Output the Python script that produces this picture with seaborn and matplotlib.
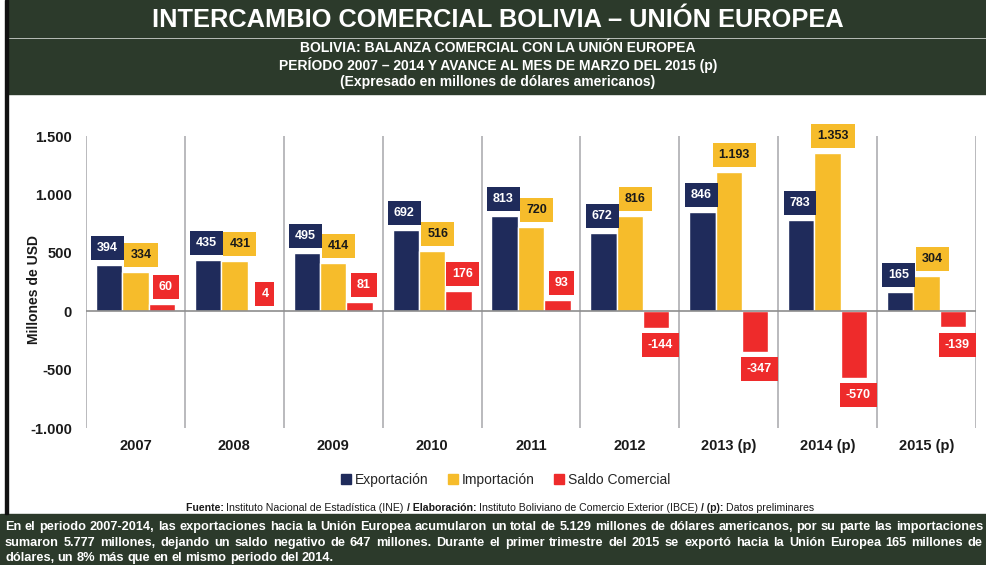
import matplotlib
matplotlib.use('Agg')
import matplotlib.pyplot as plt
import seaborn as sns
import pandas as pd
from matplotlib.patches import Rectangle

# --- DATA ---
years = ['2007', '2008', '2009', '2010', '2011', '2012', '2013 (p)', '2014 (p)', '2015 (p)']
exportacion = [394, 435, 495, 692, 813, 672, 846, 783, 165]
importacion = [334, 431, 414, 516, 720, 816, 1193, 1353, 304]
saldo = [60, 4, 81, 176, 93, -144, -347, -570, -139]
series = ['Exportación', 'Importación', 'Saldo Comercial']
colors = ['#1f2b5b', '#f6bc2b', '#ee2b2b']
label_colors = ['white', '#1a1a1a', 'white']
yticks = [-1000, -500, 0, 500, 1000, 1500]

df = pd.DataFrame({
    'Año': years * 3,
    'Serie': [series[0]] * 9 + [series[1]] * 9 + [series[2]] * 9,
    'Valor': exportacion + importacion + saldo,
})

GREEN = '#2c3a2b'

sns.set_theme(style='white')
plt.rcParams['font.family'] = ['Liberation Sans', 'DejaVu Sans']

fig = plt.figure(figsize=(9.86, 5.65), dpi=100)
W, H = 986, 565

def fx(px):
    return px / W

def fy(py):
    return 1 - py / H

# --- HEADER / FOOTER BANDS ---
fig.patches.append(Rectangle((fx(8), fy(37)), 1, 37 / H, transform=fig.transFigure, color=GREEN, zorder=0))
fig.patches.append(Rectangle((fx(8), fy(94)), 1, 55 / H, transform=fig.transFigure, color=GREEN, zorder=0))
fig.patches.append(Rectangle((0, 0), 1, 51 / H, transform=fig.transFigure, color=GREEN, zorder=0))
fig.patches.append(Rectangle((fx(5), fy(514)), 3 / W, 514 / H, transform=fig.transFigure, color='#111111', zorder=0))

fig.text(0.505, fy(20), 'INTERCAMBIO COMERCIAL BOLIVIA – UNIÓN EUROPEA', color='white',
         fontsize=18.3, fontweight='bold', ha='center', va='center')
fig.text(0.505, fy(48), 'BOLIVIA: BALANZA COMERCIAL CON LA UNIÓN EUROPEA', color='white',
         fontsize=10, fontweight='bold', ha='center', va='center')
fig.text(0.505, fy(65), 'PERÍODO 2007 – 2014 Y AVANCE AL MES DE MARZO DEL 2015 (p)', color='white',
         fontsize=10, fontweight='bold', ha='center', va='center')
fig.text(0.505, fy(82), '(Expresado en millones de dólares americanos)', color='white',
         fontsize=10, fontweight='bold', ha='center', va='center')

# --- CHART ---
ax = fig.add_axes([fx(86), fy(428), (976 - 86) / W, (428 - 136) / H])
ax.set_facecolor('none')
sns.barplot(data=df, x='Año', y='Valor', hue='Serie', palette=colors, saturation=1,
            width=0.8, ax=ax, legend=False, zorder=2)
ax.set_xlim(-0.5, len(years) - 0.5)
ax.set_ylim(-1000, 1500)
ax.set_yticks(yticks)
ax.set_yticklabels([f'{v:,.0f}'.replace(',', '.') for v in yticks])
for s in ax.spines.values():
    s.set_visible(False)
for i in range(len(years) + 1):
    ax.axvline(i - 0.5, color='#b4b4b8', lw=1.3, zorder=1)
ax.axhline(0, color='#8e8e8e', lw=1.2, zorder=3)
ax.tick_params(axis='both', length=0, labelsize=10.5, colors='#1a1a1a')
ax.tick_params(axis='y', pad=10)
ax.tick_params(axis='x', pad=8)
for t in ax.get_xticklabels() + ax.get_yticklabels():
    t.set_fontweight('bold')
ax.set_xlabel('')
ax.set_ylabel('Millones de USD', fontsize=10, fontweight='bold', color='#1a1a1a')
ax.yaxis.set_label_coords((41 - 86) / 890, (428 - 290) / 292)

# value boxes: export on top of import, small horizontal nudges like the original
x_nudge = [-1, 4, 3]
z_order = [7, 6, 5]
for cont, col, tcol, dx, zo in zip(ax.containers, colors, label_colors, x_nudge, z_order):
    for bar in cont:
        v = bar.get_height()
        x = bar.get_x() + bar.get_width() / 2
        txt = f'{v:,.0f}'.replace(',', '.')
        ax.annotate(txt, (x, v), xytext=(dx, 8 if v >= 0 else -8), textcoords='offset points',
                    ha='center', va='bottom' if v >= 0 else 'top', fontsize=9,
                    fontweight='bold', color=tcol, zorder=zo,
                    bbox=dict(boxstyle='square,pad=0.48', fc=col, ec='none'))

handles = [Rectangle((0, 0), 1, 1, color=c) for c in colors]
fig.legend(handles, series, loc='center', bbox_to_anchor=(0.513, fy(480)), ncol=3, frameon=False,
           fontsize=10, handlelength=0.7, handleheight=0.7, handletextpad=0.3, columnspacing=1.4)

# --- FUENTE LINE (mixed bold / normal) ---
fig.canvas.draw()
renderer = fig.canvas.get_renderer()
pieces = [('Fuente: ', 'bold'), ('Instituto Nacional de Estadística (INE) ', 'normal'),
          ('/ Elaboración: ', 'bold'), ('Instituto Boliviano de Comercio Exterior (IBCE) ', 'normal'),
          ('/ (p): ', 'bold'), ('Datos preliminares', 'normal')]
tmp = []
total = 0
for s, w in pieces:
    t = fig.text(0, 0, s, fontsize=7.6, fontweight=w)
    total += t.get_window_extent(renderer).width
    tmp.append(t)
xpos = 500 - total / 2
for t in tmp:
    t.set_position((fx(xpos), fy(508)))
    t.set_va('center')
    t.set_color('#1a1a1a')
    xpos += t.get_window_extent(renderer).width

# --- FOOTER PARAGRAPH (justified) ---
lines = [
    'En el periodo 2007-2014, las exportaciones hacia la Unión Europea acumularon un total de 5.129 millones de dólares americanos, por su parte las importaciones',
    'sumaron 5.777 millones, dejando un saldo negativo de 647 millones. Durante el primer trimestre del 2015 se exportó hacia la Unión Europea 165 millones de',
    'dólares, un 8% más que en el mismo periodo del 2014.',
]
ys = [527, 543, 558]
left, right = 5, 983
for k, (line, yy) in enumerate(zip(lines, ys)):
    words = line.split(' ')
    objs = [fig.text(0, fy(yy), w, fontsize=9.2, fontweight='bold', color='white', va='center')
            for w in words]
    widths = [o.get_window_extent(renderer).width for o in objs]
    if k < len(lines) - 1:
        gap = (right - left - sum(widths)) / (len(words) - 1)
    else:
        gap = objs[0].get_window_extent(renderer).height * 0.28
    xpos = left
    for o, wd in zip(objs, widths):
        o.set_x(fx(xpos))
        xpos += wd + gap

fig.savefig('out.png', dpi=100)
